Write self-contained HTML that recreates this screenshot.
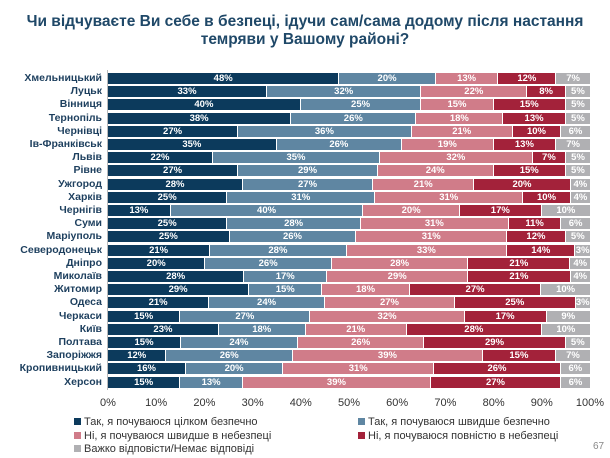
<!DOCTYPE html>
<html><head><meta charset="utf-8"><style>
body{margin:0;width:610px;height:458px;background:#fff;font-family:"Liberation Sans","DejaVu Sans",sans-serif;position:relative;overflow:hidden}
.t{position:absolute;left:0;width:610px;text-align:center;color:#1f4868;font-weight:bold;font-size:15.5px;line-height:18px}
.lab{position:absolute;right:508px;font-size:10.5px;font-weight:bold;color:#1d3f5e;text-align:right;white-space:nowrap;line-height:11px}
.bar{position:absolute;left:108px;width:482px;height:11px;display:flex}
.bar div{height:11px;color:#fff;font-size:9.5px;line-height:11px;text-align:center;overflow:hidden;font-weight:bold}
.c0{background:#0c3a5c}.c1{background:#5f86a2}.c2{background:#d07c89}.c3{background:#a3223a}.c4{background:#b0b0b3}
.tick{position:absolute;top:397px;font-size:11px;color:#333;transform:translateX(-50%)}
.lg{position:absolute;font-size:11px;color:#333;white-space:nowrap}
.lg span{display:inline-block;width:7px;height:7px;margin-right:3px}
</style></head><body>
<div class="t" style="top:13px">Чи відчуваєте Ви себе в безпеці, ідучи сам/сама додому після настання</div>
<div class="t" style="top:31px">темряви у Вашому районі?</div>
<div style="position:absolute;left:107px;top:70px;width:1px;height:320px;background:#bbb"></div>
<div id="c"></div>
<script>
var d=[["Хмельницький",48,20,13,12,7],["Луцьк",33,32,22,8,5],["Вінниця",40,25,15,15,5],["Тернопіль",38,26,18,13,5],["Чернівці",27,36,21,10,6],["Ів-Франківськ",35,26,19,13,7],["Львів",22,35,32,7,5],["Рівне",27,29,24,15,5],["Ужгород",28,27,21,20,4],["Харків",25,31,31,10,4],["Чернігів",13,40,20,17,10],["Суми",25,28,31,11,6],["Маріуполь",25,26,31,12,5],["Северодонецьк",21,28,33,14,3],["Дніпро",20,26,28,21,4],["Миколаїв",28,17,29,21,4],["Житомир",29,15,18,27,10],["Одеса",21,24,27,25,3],["Черкаси",15,27,32,17,9],["Київ",23,18,21,28,10],["Полтава",15,24,26,29,5],["Запоріжжя",12,26,39,15,7],["Кропивницький",16,20,31,26,6],["Херсон",15,13,39,27,6]];
var h="";
d.forEach(function(r,i){var y=73+i*13.2;var s=r[1]+r[2]+r[3]+r[4]+r[5];
h+='<div class="lab" style="top:'+y+'px">'+r[0]+'</div><div class="bar" style="top:'+y+'px">';
for(var k=1;k<6;k++){h+='<div class="c'+(k-1)+'" style="width:'+(r[k]/s*482)+'px;'+(k<5?'border-right:1px solid #fff;box-sizing:border-box':'')+'">'+r[k]+'%</div>';}
h+='</div>';});
for(var t=0;t<=10;t++){h+='<div class="tick" style="left:'+(108+t*48.2)+'px">'+(t*10)+'%</div>';}
document.getElementById("c").innerHTML=h;
</script>
<div class="lg" style="left:74px;top:416px"><span class="c0"></span>Так, я почуваюся цілком безпечно</div>
<div class="lg" style="left:358px;top:416px"><span class="c1"></span>Так, я почуваюся швидше безпечно</div>
<div class="lg" style="left:74px;top:430px"><span class="c2"></span>Ні, я почуваюся швидше в небезпеці</div>
<div class="lg" style="left:358px;top:430px"><span class="c3"></span>Ні, я почуваюся повністю в небезпеці</div>
<div class="lg" style="left:74px;top:443px"><span class="c4"></span>Важко відповісти/Немає відповіді</div>
<div style="position:absolute;left:593px;top:441px;font-size:10px;color:#888">67</div>
</body></html>
